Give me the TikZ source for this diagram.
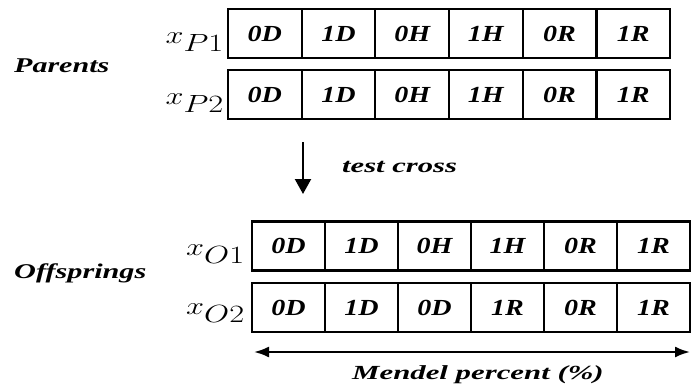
\documentclass[tikz,border=0pt]{standalone}
\usepackage{fontspec}
\setmainfont{Liberation Serif}
\usetikzlibrary{arrows.meta}
\newcommand{\hsc}[2]{\scalebox{#1}[1]{#2}}
\begin{document}
\begin{tikzpicture}[x=1pt,y=-1pt,
  pcell/.style={draw, line width=2.3pt, minimum width=73.67pt, minimum height=49pt, inner sep=0pt,
    font=\fontsize{23}{25}\selectfont\bfseries\itshape},
  ocell/.style={pcell, minimum width=73pt},
  lbl/.style={inner sep=0pt, anchor=base west, font=\fontsize{21}{23}\selectfont\bfseries\itshape},
  mlbl/.style={inner sep=0pt, anchor=base east, font=\fontsize{34}{36}\selectfont},
  arr/.style={line width=2.2pt}]
\useasboundingbox (0,0) rectangle (691,386);
% parents rows
\foreach \t [count=\i] in {0D,1D,0H,1H,0R,1R}{
  \node[pcell] (pa\i) at ({228+73.67*(\i-0.5)},33.5) {\hsc{1.22}{\t}};
  \node[pcell] (pb\i) at ({228+73.67*(\i-0.5)},94.5) {\hsc{1.22}{\t}};
}
\foreach \t [count=\i] in {0D,1D,0H,1H,0R,1R}{
  \node[ocell] (oa\i) at ({252+73*(\i-0.5)},246) {\hsc{1.22}{\t}};
}
\foreach \t [count=\i] in {0D,1D,0D,1R,0R,1R}{
  \node[ocell] (ob\i) at ({252+73*(\i-0.5)},307.5) {\hsc{1.22}{\t}};
}
% math labels
\node[mlbl] (lp1) at (224,43) {\hsc{1.3}{$x_{P1}$}};
\node[mlbl] (lp2) at (224,104) {\hsc{1.3}{$x_{P2}$}};
\node[mlbl] (lo1) at (245,255) {\hsc{1.3}{$x_{O1}$}};
\node[mlbl] (lo2) at (245,314) {\hsc{1.3}{$x_{O2}$}};
% text labels
\node[lbl] (par) at (14,72) {\hsc{1.43}{Parents}};
\node[lbl] (off) at (14,278) {\hsc{1.44}{Offsprings}};
\node[lbl, font=\fontsize{20}{22}\selectfont\bfseries\itshape] (tc) at (342,172) {\hsc{1.53}{test cross}};
\node[lbl, font=\fontsize{20}{22}\selectfont\bfseries\itshape] (men) at (352,379) {\hsc{1.54}{Mendel percent (\%)}};
% arrows
\coordinate (da) at (303,142);
\coordinate (db) at (303,194);
\draw[arr,-{Triangle[width=16pt,length=15pt]}] (da) -- (db);
\coordinate (ml) at (254,352);
\coordinate (mr) at (690,352);
\draw[arr,{Latex[width=11pt,length=15pt]}-{Latex[width=11pt,length=15pt]}] (ml) -- (mr);
\end{tikzpicture}
\end{document}
